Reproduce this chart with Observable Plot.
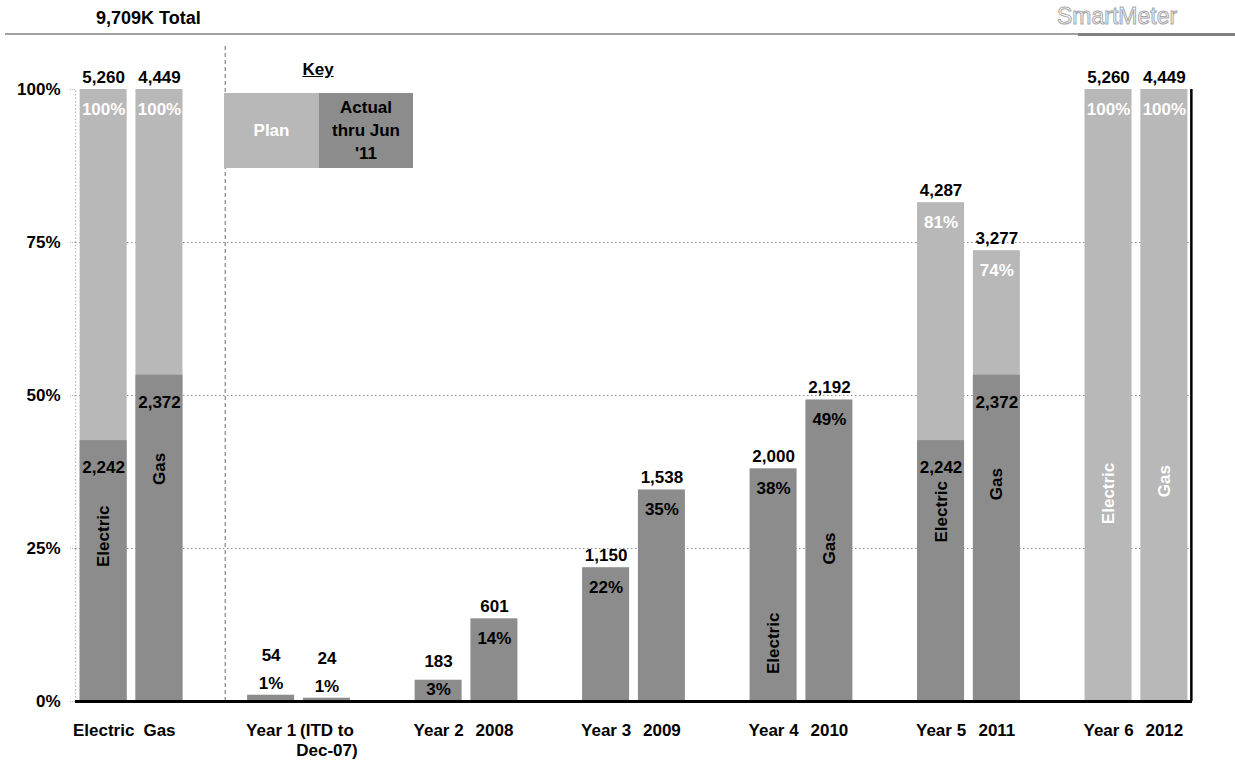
<!DOCTYPE html>
<html><head><meta charset="utf-8">
<script src="https://cdn.jsdelivr.net/npm/d3@7"></script>
<script src="https://cdn.jsdelivr.net/npm/@observablehq/plot@0.6"></script>
<style>
html,body{margin:0;padding:0;background:#fff;}
body{font-family:"Liberation Sans",Arial,sans-serif;}
#wrap{position:relative;width:1235px;height:764px;overflow:hidden;background:#fff;}
#header{position:relative;height:40px;}
#title{position:absolute;left:96px;top:9px;font-size:18px;line-height:18px;font-weight:bold;color:#000;}
#logo{position:absolute;left:1057px;top:3px;font-size:23px;line-height:27px;color:#fff;-webkit-text-stroke:1px #a8a8a8;font-family:"Liberation Sans",Arial,sans-serif;}
#rule1{position:absolute;left:5px;top:33px;width:1230px;height:2px;background:#a0a0a0;}
#rule2{position:absolute;left:1078px;top:33px;width:157px;height:3px;background:#808080;}
#chart{position:relative;}
#keyTitle{position:absolute;left:268px;top:61px;width:100px;text-align:center;font-size:17px;font-weight:bold;text-decoration:underline;line-height:17px;}
#key{position:absolute;left:224px;top:93px;width:189px;height:75px;display:flex;font-size:17px;font-weight:bold;}
#key div{display:flex;align-items:center;justify-content:center;text-align:center;line-height:23px;}
#keyPlan{width:95px;background:#b8b8b8;color:#fff;}
#keyActual{width:94px;background:#8c8c8c;color:#000;}
</style></head>
<body>
<div id="wrap">
  <div id="header">
    <div id="title">9,709K Total</div>
    <div id="logo">SmartMeter</div>
    <div id="rule1"></div><div id="rule2"></div>
  </div>
  <div id="chart"></div>
  <div id="keyTitle">Key</div>
  <div id="key"><div id="keyPlan">Plan</div><div id="keyActual">Actual<br>thru Jun<br>'11</div></div>
</div>
<script>
// ---- data ----
const groups = ["Total", "Year 1", "Year 2", "Year 3", "Year 4", "Year 5", "Year 6"];
const kinds = ["Electric", "Gas"];
const planTotals = [5260, 4449];
const electricLabels = ["Electric", "Year 1", "Year 2", "Year 3", "Year 4", "Year 5", "Year 6"];
const gasLabels = ["Gas", "(ITD to\nDec-07)", "2008", "2009", "2010", "2011", "2012"];
const electricPlan = [5260, null, null, null, null, 4287, 5260];
const gasPlan = [4449, null, null, null, null, 3277, 4449];
const electricActual = [2242, 54, 183, 1150, 2000, 2242, null];
const gasActual = [2372, 24, 601, 1538, 2192, 2372, null];
const electricPct = ["100%", "1%", "3%", "22%", "38%", "81%", "100%"];
const gasPct = ["100%", "1%", "14%", "35%", "49%", "74%", "100%"];
// share of plan where the rotated series name sits inside a bar
const electricNameAt = [0.27, null, null, null, 0.095, 0.31, 0.34];
const gasNameAt = [0.38, null, null, null, 0.25, 0.355, 0.36];
const yTicks = [0, 0.25, 0.5, 0.75, 1];
const gridTicks = [0.25, 0.5, 0.75];

// ---- build table ----
const LIGHT = "#b8b8b8", DARK = "#8c8c8c";
const keys = [];
const rows = [];
groups.forEach((g, i) => {
  kinds.forEach((k, j) => {
    const key = i + k[0];
    keys.push(key);
    const E = j === 0;
    rows.push({
      key, group: g, kind: k,
      total: planTotals[j],
      plan: E ? electricPlan[i] : gasPlan[i],
      actual: E ? electricActual[i] : gasActual[i],
      pct: E ? electricPct[i] : gasPct[i],
      label: E ? electricLabels[i] : gasLabels[i],
      nameAt: E ? electricNameAt[i] : gasNameAt[i]
    });
  });
  if (i < groups.length - 1) keys.push(i + "s");
});
rows.forEach(d => {
  d.topVal = d.plan != null ? d.plan : d.actual;
  d.frac = d.topVal / d.total;
});
const fmt = d3.format(",");
const big = rows.filter(d => d.frac >= 0.05);
const tiny = rows.filter(d => d.frac < 0.02);
const small = rows.filter(d => d.frac >= 0.02 && d.frac < 0.05);

const chart = Plot.plot({
  width: 1235,
  height: 724,
  marginTop: 49,
  marginBottom: 63,
  marginLeft: 75,
  marginRight: 43,
  style: {fontFamily: "Liberation Sans, Arial, sans-serif", fontSize: "17px", fontWeight: "bold", background: "white", color: "black", overflow: "visible"},
  x: {domain: keys, type: "band", paddingInner: 0.158, paddingOuter: 0.083, round: false, axis: null},
  y: {domain: [0, 1], axis: null},
  marks: [
    Plot.ruleY(gridTicks, {stroke: "#8a8a8a", strokeDasharray: "1.5,2.5", strokeWidth: 1}),
    Plot.ruleX(["0E"], {y1: 0, y2: 1, dx: -28, stroke: "#b0b0b0", strokeDasharray: "1.5,2", strokeWidth: 1}),
    Plot.ruleX(["0s"], {y1: 0, y2: 1.075, dx: 10, stroke: "#9a9a9a", strokeDasharray: "4,3", strokeWidth: 1.5}),
    Plot.barY(rows.filter(d => d.plan != null), {x: "key", y1: 0, y2: d => d.plan / d.total, fill: LIGHT, inset: 0}),
    Plot.barY(rows.filter(d => d.actual != null), {x: "key", y1: 0, y2: d => d.actual / d.total, fill: DARK, inset: 0}),
    Plot.ruleY([0], {stroke: "black", strokeWidth: 3}),
    Plot.ruleX(["6G"], {y1: 0, y2: 1, dx: 27, stroke: "black", strokeWidth: 2.5}),
    Plot.axisY({ticks: yTicks, tickFormat: d => Math.round(d * 100) + "%", tickSize: 5, tickPadding: 10, stroke: "#b0b0b0", strokeDasharray: "1,1", fill: "black", label: null, fontSize: 17, fontWeight: "bold"}),
    // value labels above bars
    Plot.text(big, {x: "key", y: "frac", text: d => fmt(d.topVal), dy: -12, fill: "black"}),
    Plot.text(tiny, {x: "key", y: "frac", text: d => fmt(d.topVal), dy: -40, fill: "black"}),
    Plot.text(small, {x: "key", y: 0, text: d => fmt(d.topVal), dy: -40, fill: "black"}),
    // percentage labels
    Plot.text(big, {x: "key", y: "frac", text: "pct", dy: 20, fill: d => d.plan != null ? "white" : "black"}),
    Plot.text(tiny, {x: "key", y: "frac", text: "pct", dy: -12, fill: "black"}),
    Plot.text(small, {x: "key", y: 0, text: "pct", dy: -12, fill: "black"}),
    // actual labels inside plan bars
    Plot.text(rows.filter(d => d.plan != null && d.actual != null), {x: "key", y: d => d.actual / d.total, text: d => fmt(d.actual), dy: 27, fill: "black"}),
    // rotated series names
    Plot.text(rows.filter(d => d.nameAt != null), {x: "key", y: "nameAt", text: "kind", rotate: -90, fill: d => d.actual == null ? "white" : "black"}),
    // category labels
    Plot.text(rows, {x: "key", y: 0, text: "label", lineAnchor: "top", dy: 20, lineHeight: 1.2, fill: "black"})
  ]
});
document.getElementById("chart").appendChild(chart);
</script>
</body></html>
